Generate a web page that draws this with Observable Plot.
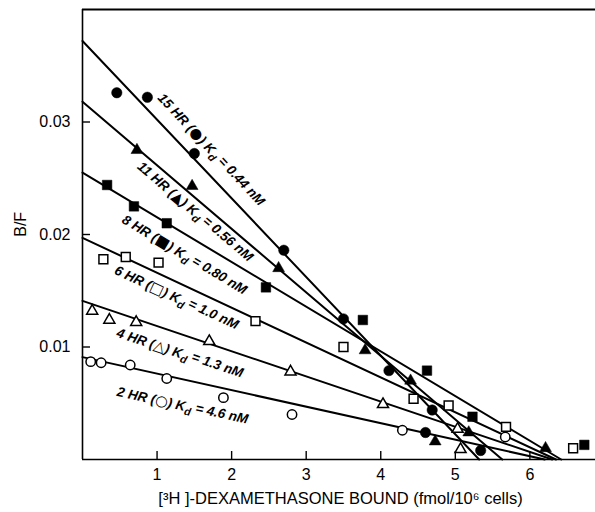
<!DOCTYPE html>
<html>
<head>
<meta charset="utf-8">
<script src="https://cdn.jsdelivr.net/npm/d3@7"></script>
<script src="https://cdn.jsdelivr.net/npm/@observablehq/plot@0.6"></script>
<style>
  html, body { margin: 0; padding: 0; background: #fff; }
</style>
</head>
<body>
<div id="chart"></div>
<script>
// Series (incubation time) metadata
const hours = ["15", "11", "8", "6", "4", "2"];
const labelSymbols = ["●", "▲", "■", "□", "△", "○"];
const kdValues = ["0.44", "0.56", "0.80", "1.0", "1.3", "4.6"];

// Data points per series: [bound (fmol/10^6 cells), B/F]
const h15 = [[0.46,0.0326],[0.87,0.0322],[1.50,0.0272],[2.70,0.0186],[3.50,0.0125],[4.11,0.0079],[4.60,0.0024],[4.69,0.0044],[5.34,0.0008]];
const h11 = [[0.73,0.0275],[1.47,0.0243],[2.63,0.0170],[3.79,0.0097],[4.40,0.0070],[4.73,0.0016],[5.18,0.0024],[6.21,0.0010]];
const h8  = [[0.33,0.0244],[0.69,0.0225],[1.13,0.0210],[2.46,0.0153],[3.76,0.0124],[4.62,0.0079],[5.23,0.0038],[6.73,0.0013]];
const h6  = [[0.28,0.0178],[0.58,0.0180],[1.02,0.0175],[2.32,0.0123],[3.50,0.0100],[4.44,0.0054],[4.91,0.0048],[5.68,0.0029],[6.58,0.0010]];
const h4  = [[0.13,0.0132],[0.36,0.0124],[0.72,0.0122],[1.70,0.0105],[2.79,0.0078],[4.03,0.0049],[5.03,0.0027],[5.07,0.0009]];
const h2  = [[0.11,0.0087],[0.25,0.0086],[0.64,0.0084],[1.13,0.0072],[1.89,0.0055],[2.81,0.0040],[4.29,0.0026],[5.67,0.0020]];

// Fitted Scatchard lines: B/F intercept at x=0 and x-intercept (Bmax)
const lineY0 = [0.0372, 0.0318, 0.0255, 0.0197, 0.0141, 0.0091];
const lineX1 = [5.32, 5.63, 6.42, 6.35, 6.30, 6.20];

// Label anchor (data coords) and rotation (deg) along each line
const labelX = [1.043, 0.761, 0.546, 0.439, 0.466, 0.466];
const labelY = [0.03236, 0.02622, 0.02142, 0.01689, 0.01129, 0.00604];
const labelAngle = [47, 40.5, 31, 25, 18.5, 12.5];

const xTicks = [1, 2, 3, 4, 5, 6];
const yTicks = [0.01, 0.02, 0.03];
const xLabel = "[³H ]-DEXAMETHASONE BOUND (fmol/10⁶ cells)";
const yLabel = "B/F";

const seriesPts = [h15, h11, h8, h6, h4, h2];
const symbols = ["circle", "triangle", "square", "square", "triangle", "circle"];
const filled = [true, true, true, false, false, false];
const radii = [5.2, 4.4, 5.4, 5.0, 4.1, 4.7];

const lines = [];
lineY0.forEach((y0, i) => {
  lines.push({s: i, x: 0, y: y0});
  lines.push({s: i, x: lineX1[i], y: 0});
});

const labels = hours.map((h, i) => ({
  text: `${h} HR (${labelSymbols[i]}) Kd = ${kdValues[i]} nM`,
  x: labelX[i], y: labelY[i], a: labelAngle[i]
}));

const dotMarks = seriesPts.map((pts, i) => Plot.dot(pts, {
  x: d => d[0], y: d => d[1],
  symbol: symbols[i], r: radii[i],
  fill: filled[i] ? "black" : "white",
  stroke: "black", strokeWidth: filled[i] ? 0.5 : 1.5
}));

const chart = Plot.plot({
  width: 595,
  height: 512,
  marginLeft: 82,
  marginRight: 0,
  marginTop: 9,
  marginBottom: 53,
  style: {fontFamily: "'Liberation Sans', Arial, Helvetica, sans-serif", fontSize: "16px", background: "white", color: "black"},
  x: {domain: [0, 6.88]},
  y: {domain: [0, 0.04]},
  marks: [
    Plot.ruleX([0], {stroke: "black", strokeWidth: 1.6}),
    Plot.ruleY([0], {stroke: "black", strokeWidth: 1.6}),
    Plot.ruleY([0.04], {stroke: "black", strokeWidth: 1.8}),
    Plot.axisX({ticks: xTicks, tickSize: -8, tickPadding: 17, label: null, tickFormat: d3.format("d"), fontSize: 16, strokeWidth: 1.4}),
    Plot.axisY({ticks: yTicks, tickSize: -8, tickPadding: 20, label: null, tickFormat: d3.format(".2f"), fontSize: 16, strokeWidth: 1.4}),
    Plot.line(lines, {x: "x", y: "y", z: "s", stroke: "black", strokeWidth: 2}),
    ...dotMarks,
    Plot.text(labels, {
      x: "x", y: "y", text: "text", rotate: "a",
      textAnchor: "start", lineAnchor: "middle",
      fontSize: 13.5, fontWeight: "bold", fontStyle: "italic",
      fill: "black"
    }),
    Plot.text([3.46], {x: d => d, frameAnchor: "bottom", dy: 39, text: () => xLabel, fontSize: 16.5, lineAnchor: "middle"}),
    Plot.text([0.0198], {y: d => d, frameAnchor: "left", dx: -62, rotate: -90, text: () => yLabel, fontSize: 16, lineAnchor: "middle"})
  ]
});

// Render the symbol at full size and "Kd" with subscript d
d3.select(chart).selectAll("text")
  .filter(function() { return this.textContent.includes(" HR (") && this.textContent.includes("Kd"); })
  .each(function() {
    const t = d3.select(this);
    const s = this.textContent;
    const p = s.indexOf("(");
    const k = s.indexOf("Kd");
    t.text(null);
    t.append("tspan").text(s.slice(0, p + 1));
    t.append("tspan")
      .attr("font-family", "'DejaVu Sans', sans-serif")
      .attr("font-style", "normal")
      .attr("font-size", "14.5px")
      .text(s.slice(p + 1, p + 2));
    t.append("tspan").text(s.slice(p + 2, k + 1));
    t.append("tspan").attr("dy", "0.35em").attr("font-size", "0.8em").text("d");
    t.append("tspan").attr("dy", "-0.35em").text(s.slice(k + 2));
  });

document.getElementById("chart").appendChild(chart);
</script>
</body>
</html>
